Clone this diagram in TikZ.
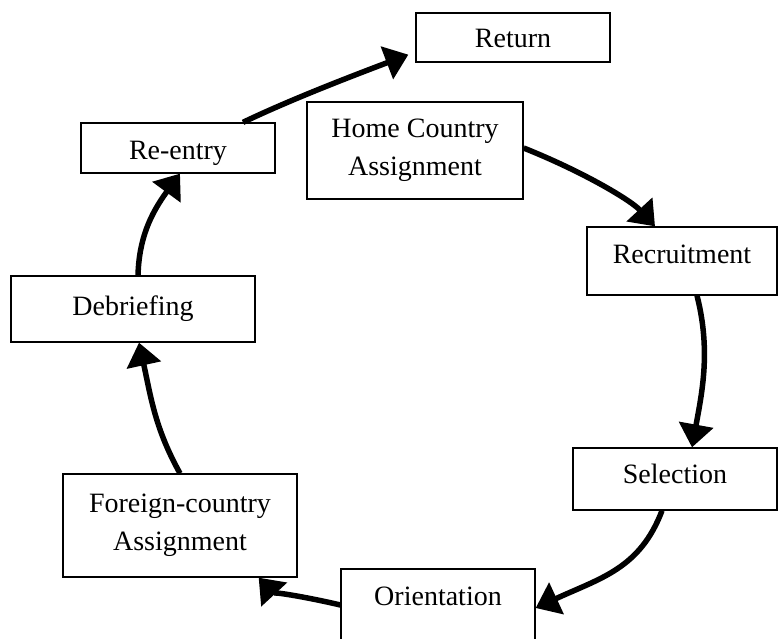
\documentclass[tikz,border=0pt]{standalone}
\usepackage{fontspec}
\setmainfont{Liberation Serif}
\usetikzlibrary{arrows.meta}
\tikzset{
  box/.style={draw, line width=1.3pt, inner sep=0pt, align=center,
    font=\fontsize{28}{38}\selectfont},
  flow/.style={line width=5.5pt, -{Triangle[length=23pt,width=34pt]}}
}
\begin{document}
\begin{tikzpicture}[x=1pt,y=-1pt]
\useasboundingbox (0,0) rectangle (779,639);
\node[box, minimum width=194pt, minimum height=49pt, text height=21pt, text depth=0pt] (ret) at (513,37.5) {Return};
\node[box, minimum width=216pt, minimum height=97pt] (hca) at (415,150.5) {Home Country\\Assignment};
\node[box, minimum width=190pt, minimum height=68pt, text height=19pt, text depth=15pt] (rec) at (682,261) {Recruitment};
\node[box, minimum width=204pt, minimum height=62pt, text height=19pt, text depth=11pt] (sel) at (675,479) {Selection};
\node[box, minimum width=194pt, minimum height=86pt, text height=19pt, text depth=33pt] (ori) at (438,612) {Orientation};
\node[box, minimum width=234pt, minimum height=103pt] (frn) at (180,525.5) {Foreign-country\\Assignment};
\node[box, minimum width=244pt, minimum height=66pt, text height=19pt, text depth=7pt] (deb) at (133,309) {Debriefing};
\node[box, minimum width=194pt, minimum height=50pt, text height=24pt, text depth=0pt] (ren) at (178,148) {Re-entry};

\draw[flow] ([xshift=65pt]ren.north) .. controls +(50,-24) and +(-50,19) .. ([xshift=-7pt,yshift=8pt]ret.south west);
\draw[flow] ([yshift=2.5pt]hca.east) .. controls +(60,24) and +(-24,-26) .. ([xshift=-27pt]rec.north);
\draw[flow] ([xshift=15pt]rec.south) .. controls +(14,55) and +(10,-55) .. ([xshift=17pt]sel.north);
\draw[flow] ([xshift=-13pt]sel.south) .. controls +(-22,58) and +(65,-30) .. ([yshift=4pt]ori.east);
\draw[flow] ([yshift=7pt]ori.west) .. controls +(-25,-6) and +(12,13) .. ([xshift=-39pt]frn.south east);
\draw[flow] (frn.north) .. controls +(-25,-45) and +(12,55) .. ([xshift=6pt]deb.south);
\draw[flow] ([xshift=5pt]deb.north) .. controls +(1,-36) and +(-30,41) .. ([xshift=2pt]ren.south);
\end{tikzpicture}
\end{document}
